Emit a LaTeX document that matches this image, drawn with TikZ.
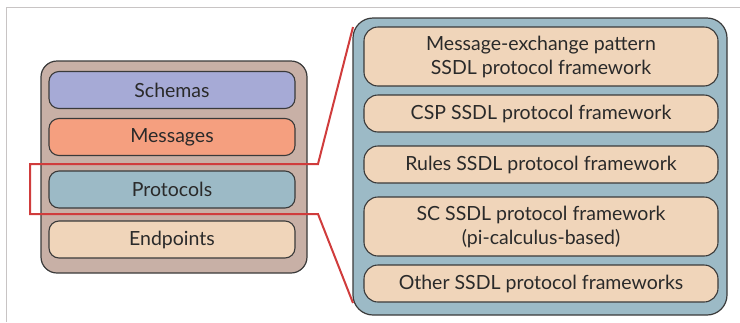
\documentclass[tikz,border=0pt]{standalone}
\usepackage{fontspec}
\setmainfont{Lato}
\definecolor{framegray}{HTML}{C8C4C4}
\definecolor{linegray}{HTML}{3A3A3A}
\definecolor{textgray}{HTML}{2A2A2A}
\definecolor{stackbg}{HTML}{C8B0A6}
\definecolor{schemacol}{HTML}{A6AAD6}
\definecolor{msgcol}{HTML}{F59F7F}
\definecolor{protcol}{HTML}{9CBAC6}
\definecolor{endcol}{HTML}{F0D5BA}
\definecolor{zoomred}{HTML}{D03C3C}
\tikzset{
  outerbox/.style={draw=linegray, line width=1.2pt, rounded corners=16pt, inner sep=0pt},
  layer/.style={draw=linegray, line width=1.1pt, rounded corners=10pt, inner sep=0pt,
    text=textgray, align=center, font=\fontsize{19.5}{24}\selectfont},
  zoomline/.style={draw=zoomred, line width=2pt}
}
\begin{document}
\begin{tikzpicture}[x=1pt,y=-1pt]
  \useasboundingbox (0,0) rectangle (740,322);
  \draw[framegray, line width=1pt] (6,322) -- (6,7) -- (740,7);
  % stack of layers
  \node[outerbox, fill=stackbg, minimum width=266pt, minimum height=212pt] (stack) at (174,167) {};
  \foreach \n/\t/\c/\y in {schemas/Schemas/schemacol/90, messages/Messages/msgcol/137,
      protocols/Protocols/protcol/189.5, endpoints/Endpoints/endcol/239.5}
    \node[layer, fill=\c, minimum width=246pt, minimum height=37pt] (\n) at (172,\y) {\t};
  % protocol frameworks
  \node[outerbox, rounded corners=20pt, fill=protcol, minimum width=374pt, minimum height=297pt] (frames) at (540,166.5) {};
  \foreach \n/\t/\y/\h in {mep/{Message-exchange pattern\\SSDL protocol framework}/56.5/59,
      csp/CSP SSDL protocol framework/113.5/37,
      rules/Rules SSDL protocol framework/164.5/37,
      sc/{SC SSDL protocol framework\\(pi-calculus-based)}/226.5/59,
      other/Other SSDL protocol frameworks/283.5/37}
    \node[layer, rounded corners=14pt, fill=endcol, minimum width=354pt, minimum height=\h pt] (\n) at (541,\y) {\t};
  % zoom marker
  \coordinate (hl-nw) at (30,164);
  \coordinate (hl-ne) at (318,164);
  \coordinate (hl-sw) at (30,214);
  \coordinate (hl-se) at (318,214);
  \coordinate (zoom-top) at (353,27);
  \coordinate (zoom-bot) at (353,303);
  \draw[zoomline] (zoom-top) -- (hl-ne) -- (hl-nw) -- (hl-sw) -- (hl-se) -- (zoom-bot);
\end{tikzpicture}
\end{document}
